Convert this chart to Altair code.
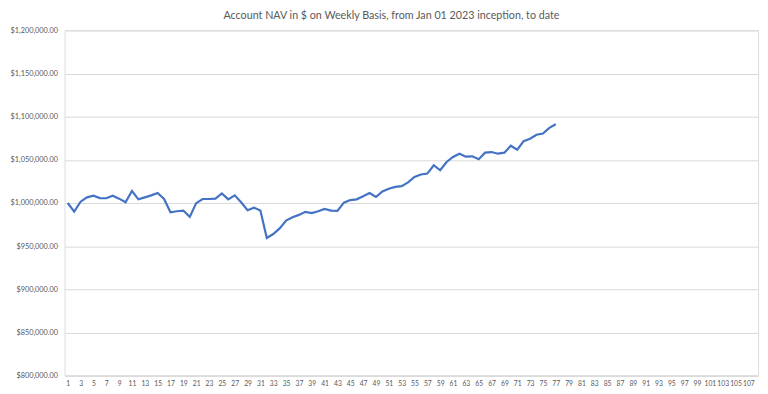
import altair as alt
import pandas as pd

weeks_all = list(range(1, 109))
nav = [
    1000000, 990000, 1001500, 1006500, 1008400, 1005700, 1005500, 1008500, 1005000, 1000800,
    1013800, 1004200, 1006500, 1008800, 1011500, 1004600, 989300, 990400, 991200, 983900,
    999800, 1004600, 1004600, 1005000, 1011100, 1004200, 1008800, 1000800, 991600, 994600,
    991200, 959400, 964000, 970500, 979700, 983500, 986200, 989700, 988200, 990400,
    993100, 991200, 990800, 1000400, 1003400, 1004200, 1007700, 1011500, 1006900, 1013400,
    1016400, 1018700, 1019500, 1023800, 1030200, 1033000, 1034100, 1043700, 1037900, 1047500,
    1053300, 1057100, 1053700, 1054000, 1050600, 1058300, 1059000, 1057100, 1058300, 1066300,
    1061700, 1071600, 1074400, 1079000, 1080500, 1087000, 1091200,
]
weeks = weeks_all[: len(nav)]
x_labels = [w for w in weeks_all if w % 2 == 1]
y_ticks = list(range(800000, 1200001, 50000))

df = pd.DataFrame({"week": weeks, "nav": nav})

FONT = "Lato"

chart = (
    alt.Chart(df)
    .mark_line(color="#4472C4", strokeWidth=2.2)
    .encode(
        x=alt.X(
            "week:O",
            scale=alt.Scale(type="point", domain=weeks_all, padding=0.5),
            axis=alt.Axis(
                title=None,
                values=x_labels,
                labelAngle=0,
                ticks=False,
                grid=False,
                domainColor="#d9d9d9",
                labelFontSize=6.8,
                labelColor="#595959",
                labelPadding=5,
                labelFont=FONT,
                labelOverlap=False,
            ),
        ),
        y=alt.Y(
            "nav:Q",
            scale=alt.Scale(domain=[800000, 1200000], nice=False, zero=False),
            axis=alt.Axis(
                title=None,
                values=y_ticks,
                format="$,.2f",
                ticks=False,
                domain=False,
                gridColor="#d9d9d9",
                labelFontSize=7.4,
                labelColor="#595959",
                labelPadding=7,
                labelFont=FONT,
            ),
        ),
    )
    .properties(
        width=699,
        height=348,
        title=alt.TitleParams(
            "Account NAV in $ on Weekly Basis, from Jan 01 2023 inception, to date",
            fontSize=10.8,
            font=FONT,
            fontWeight="normal",
            color="#595959",
            anchor="middle",
            dx=-20,
            offset=6,
        ),
        autosize=alt.AutoSizeParams(type="none"),
        padding={"left": 57, "top": 21, "right": 2, "bottom": 15},
    )
    .configure_view(stroke=None)
    .configure(background="white")
)

chart.save("out.html", embed_options={"renderer": "svg", "actions": False})
